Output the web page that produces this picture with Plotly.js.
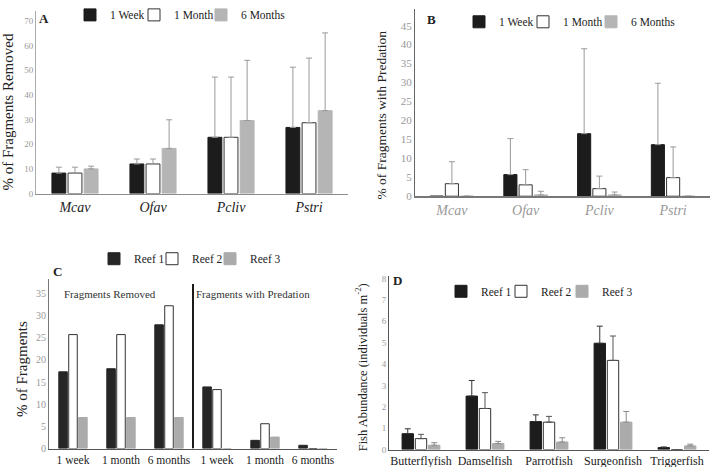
<!DOCTYPE html>
<html>
<head>
<meta charset="utf-8">
<script src="https://cdn.plot.ly/plotly-3.0.1.min.js"></script>
<style>
  body { margin: 0; background: #fff; }
  #plot { width: 711px; height: 467px; }
</style>
</head>
<body>
<div id="plot"></div>
<script>
// ---- panel A : % of fragments removed
var species = ['Mcav', 'Ofav', 'Pcliv', 'Pstri'];
var remWeek = [8.3, 12.0, 22.8, 26.8];
var remWeekSd = [2.4, 2.0, 24.4, 24.4];
var remMonth = [8.3, 12.0, 22.8, 28.7];
var remMonthSd = [2.4, 2.0, 24.4, 26.2];
var remSix = [10.0, 18.3, 29.6, 33.6];
var remSixSd = [1.1, 11.6, 24.4, 31.5];

// ---- panel B : % of fragments with predation
var predWeek = [0, 5.7, 16.5, 13.6];
var predWeekSd = [0, 9.5, 22.4, 16.2];
var predMonth = [3.3, 3.0, 2.0, 4.9];
var predMonthSd = [5.8, 4.0, 3.3, 8.1];
var predSix = [0, 0.35, 0.35, 0];
var predSixSd = [0, 0.95, 0.75, 0];

// ---- panel C : % of fragments per reef
var periods = ['1 week', '1 month', '6 months', '1 week', '1 month', '6 months'];
var reef1Frag = [17.3, 18.0, 27.9, 13.9, 1.85, 0.74];
var reef2Frag = [25.7, 25.7, 32.2, 13.3, 5.6, 0];
var reef3Frag = [7.0, 7.0, 7.0, 0, 2.6, 0];

// ---- panel D : fish abundance
var fish = ['Butterflyfish', 'Damselfish', 'Parrotfish', 'Surgeonfish', 'Triggerfish'];
var reef1Fish = [0.74, 2.5, 1.31, 4.97, 0.09];
var reef1FishSd = [0.23, 0.73, 0.31, 0.8, 0.03];
var reef2Fish = [0.51, 1.92, 1.28, 4.17, 0];
var reef2FishSd = [0.2, 0.74, 0.27, 1.14, 0];
var reef3Fish = [0.2, 0.28, 0.35, 1.28, 0.17];
var reef3FishSd = [0.12, 0.1, 0.2, 0.5, 0.08];

var serif = 'Liberation Serif, Times New Roman, serif';
var BLACK = '#1c1c1c', GREY = '#b5b5b5', GREY2 = '#ababab';

function upErr(sd, color) {
    return {type: 'data', symmetric: false, array: sd,
            arrayminus: sd.map(function() { return 0; }),
            color: color, thickness: 1, width: 3};
}

function bar(name, x, y, sd, fill, xa, ya, lg, errColor) {
    var t = {
        type: 'bar', name: name, x: x, y: y,
        xaxis: xa, yaxis: ya, legend: lg, showlegend: true,
        marker: {color: fill, line: {color: fill == '#ffffff' ? '#333' : fill, width: 1}},
        hoverinfo: 'y'
    };
    if (sd) t.error_y = upErr(sd, errColor);
    return t;
}

var idx = periods.map(function(p, i) { return i; });

// one legend per entry, so each swatch sits where the figure has it
var data = [
    bar('1 Week', species, remWeek, remWeekSd, BLACK, 'x', 'y', 'legend', '#9a9a9a'),
    bar('1 Month', species, remMonth, remMonthSd, '#ffffff', 'x', 'y', 'legend2', '#9a9a9a'),
    bar('6 Months', species, remSix, remSixSd, GREY, 'x', 'y', 'legend3', '#9a9a9a'),

    bar('1 Week', species, predWeek, predWeekSd, BLACK, 'x2', 'y2', 'legend4', '#9a9a9a'),
    bar('1 Month', species, predMonth, predMonthSd, '#ffffff', 'x2', 'y2', 'legend5', '#9a9a9a'),
    bar('6 Months', species, predSix, predSixSd, GREY, 'x2', 'y2', 'legend6', '#9a9a9a'),

    bar('Reef 1', idx, reef1Frag, null, '#262626', 'x3', 'y3', 'legend7'),
    bar('Reef 2', idx, reef2Frag, null, '#ffffff', 'x3', 'y3', 'legend8'),
    bar('Reef 3', idx, reef3Frag, null, GREY2, 'x3', 'y3', 'legend9'),

    bar('Reef 1', fish, reef1Fish, reef1FishSd, BLACK, 'x4', 'y4', 'legend10', '#333'),
    bar('Reef 2', fish, reef2Fish, reef2FishSd, '#ffffff', 'x4', 'y4', 'legend11', '#555'),
    bar('Reef 3', fish, reef3Fish, reef3FishSd, GREY2, 'x4', 'y4', 'legend12', '#8a8a8a')
];

function yax(domain, anchor, range, dtick, size, lineColor) {
    return {domain: domain, anchor: anchor, range: range, dtick: dtick,
            showgrid: false, zeroline: false,
            showline: true, linecolor: lineColor, linewidth: 1, ticks: '',
            tickfont: {family: serif, size: size, color: '#999'}, fixedrange: true};
}
function xax(domain, anchor, font, lineColor) {
    return {domain: domain, anchor: anchor, showgrid: false, zeroline: false,
            showline: true, linecolor: lineColor, linewidth: 1.5, ticks: '',
            tickfont: font, fixedrange: true};
}
// swatch left edge and vertical centre in px -> legend box position
function leg(swatchLeft, yCenter) {
    return {orientation: 'h', x: (swatchLeft - 14) / 711, y: 1 - (yCenter - 3) / 467,
            xanchor: 'left', yanchor: 'middle',
            font: {family: serif, size: 11.5, color: '#222'},
            bgcolor: 'rgba(0,0,0,0)'};
}
function ytitle(text, x, y, size) {
    return {text: text, xref: 'paper', yref: 'paper', x: x, y: y, textangle: -90,
            xanchor: 'center', yanchor: 'middle',
            showarrow: false, font: {family: serif, size: size, color: '#222'}};
}
function panel(text, x, y) {
    return {text: '<b>' + text + '</b>', xref: 'paper', yref: 'paper', x: x, y: y,
            xanchor: 'center', yanchor: 'middle',
            showarrow: false, font: {family: serif, size: 13, color: '#222'}};
}

var layout = {
    width: 711, height: 467,
    margin: {l: 0, r: 0, t: 0, b: 0},
    paper_bgcolor: '#fff', plot_bgcolor: 'rgba(0,0,0,0)',
    barmode: 'group', bargap: 0.38, bargroupgap: 0.14,
    showlegend: true,

    xaxis: xax([0.0506, 0.4895], 'y', {family: serif, size: 14, style: 'italic', color: '#222'}, '#8c8c8c'),
    yaxis: yax([0.5931, 0.9893], 'x', [0, 74], 10, 9, '#aaa'),

    xaxis2: xax([0.5837, 0.9986], 'y2', {family: serif, size: 14, style: 'italic', color: '#999'}, '#777'),
    yaxis2: yax([0.5874, 0.9944], 'x2', [0, 49.5], 5, 11, '#666'),

    xaxis3: Object.assign(xax([0.0689, 0.474], 'y3', {family: serif, size: 11.5, color: '#222'}, '#555'),
                          {range: [-0.5, 5.5], tickvals: idx, ticktext: periods}),
    yaxis3: yax([0.04, 0.4075], 'x3', [0, 38.2], 5, 10, '#777'),

    xaxis4: xax([0.5471, 0.9972], 'y4', {family: serif, size: 12, color: '#222'}, '#555'),
    yaxis4: yax([0.0379, 0.4154], 'x4', [0, 8.14], 1, 9, '#555'),

    legend: leg(84, 12),
    legend2: leg(148, 12),
    legend3: leg(215, 12),
    legend4: leg(473, 19),
    legend5: leg(537, 19),
    legend6: leg(605, 19),
    legend7: leg(108, 259),
    legend8: leg(166, 259),
    legend9: leg(224, 259),
    legend10: leg(455, 292),
    legend11: leg(515, 292),
    legend12: leg(576, 292),

    shapes: [
        {type: 'line', xref: 'x3', yref: 'y3', x0: 2.5, x1: 2.5, y0: 0, y1: 37.1,
         line: {color: '#1a1a1a', width: 2}}
    ],

    annotations: [
        ytitle('% of Fragments Removed', 0.0113, 0.771, 15),
        ytitle('% of Fragments with Predation', 0.537, 0.764, 13.5),
        ytitle('% of Fragments', 0.032, 0.212, 15),
        ytitle('Fish Abundance (individuals m<sup>-2</sup>)', 0.509, 0.216, 12.5),
        panel('A', 44 / 711, 1 - 13 / 467),
        panel('B', 431 / 711, 1 - 14 / 467),
        panel('C', 58 / 711, 1 - 269 / 467),
        panel('D', 397 / 711, 1 - 278 / 467),
        {text: 'Fragments Removed', xref: 'x3', yref: 'y3', x: 0.77, y: 34.8, showarrow: false,
         font: {family: serif, size: 11, color: '#333'}},
        {text: 'Fragments with Predation', xref: 'x3', yref: 'y3', x: 3.75, y: 34.8, showarrow: false,
         font: {family: serif, size: 11, color: '#333'}}
    ]
};

Plotly.newPlot('plot', data, layout, {displayModeBar: false, staticPlot: true});
</script>
</body>
</html>
